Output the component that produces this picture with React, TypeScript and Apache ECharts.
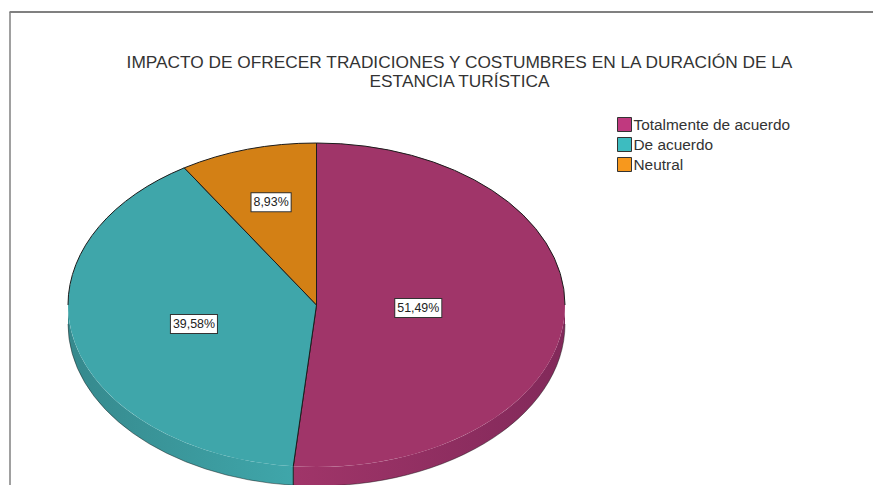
import React, { useEffect, useRef } from "react";
import * as echarts from "echarts";

const titleText = "IMPACTO DE OFRECER TRADICIONES Y COSTUMBRES EN LA DURACIÓN DE LA\nESTANCIA TURÍSTICA";
const categories = ["Totalmente de acuerdo", "De acuerdo", "Neutral"];
const shares = [51.49, 39.58, 8.93];
const shareLabels = ["51,49%", "39,58%", "8,93%"];
const topColors = ["#a03569", "#3fa6aa", "#d38015"];
const sideEdgeColors = ["#82295a", "#36898d", "#b86f12"];
const legendColors = ["#c0397f", "#3dbcc0", "#f7981d"];
const labelFractions = [0.41, 0.507, 0.66];

const CX = 316.5, CY = 305, RX = 248.5, RY = 162, DEPTH = 19;
const FONT = "'Liberation Sans', Arial, sans-serif";
const EDGE = "#1c1c1c";

const pt = (deg: number, dy = 0) => {
  const r = (deg * Math.PI) / 180;
  return [CX + RX * Math.sin(r), CY - RY * Math.cos(r) + dy];
};
const arc = (from: number, to: number, dy = 0) => {
  const q = pt(to, dy);
  const large = Math.abs(to - from) > 180 ? 1 : 0;
  const sweep = to > from ? 1 : 0;
  return `A${RX} ${RY} 0 ${large} ${sweep} ${q[0]} ${q[1]}`;
};

function renderSlice(index: number) {
  return (_params: any, api: any) => {
    const total = shares.reduce((a, b) => a + b, 0);
    const before = shares.slice(0, index).reduce((a, b) => a + b, 0);
    const a0 = (before / total) * 360;
    const a1 = a0 + (api.value(0) / total) * 360;
    const mid = (a0 + a1) / 2;
    const children: any[] = [];
    const s0 = Math.max(a0, 90), s1 = Math.min(a1, 270);
    const p = pt(a0), q = pt(a1);
    if (s1 > s0) {
      const ps = pt(s0), qs2 = pt(s1, DEPTH), ps2 = pt(s0, DEPTH);
      const xs = [ps[0], qs2[0]];
      const minX = Math.min(...xs), maxX = Math.max(...xs);
      // side wall shades from the top colour by the front towards the dark rim
      const darkAtRight = index === 0;
      children.push({
        type: "path",
        shape: {
          pathData: `M${ps[0]} ${ps[1]}${arc(s0, s1)}L${qs2[0]} ${qs2[1]}${arc(s1, s0, DEPTH)}Z`,
        },
        style: {
          fill: new echarts.graphic.LinearGradient(
            darkAtRight ? maxX : minX, 0, darkAtRight ? minX : maxX, 0,
            [
              { offset: 0, color: sideEdgeColors[index] },
              { offset: 1, color: topColors[index] },
            ],
            true,
          ),
          stroke: null,
        },
      });
      children.push({
        type: "path",
        shape: { pathData: `M${ps2[0]} ${ps2[1]}${arc(s0, s1, DEPTH)}` },
        style: { fill: null, stroke: "rgba(20,20,20,0.45)", lineWidth: 1 },
      });
      // vertical seam between two slices at the front
      if (a0 > 90 && a0 < 270) {
        children.push({
          type: "path",
          shape: { pathData: `M${p[0]} ${p[1]}L${p[0]} ${p[1] + DEPTH}` },
          style: { fill: null, stroke: EDGE, lineWidth: 1 },
        });
      }
    }
    children.push({
      type: "path",
      shape: { pathData: `M${CX} ${CY}L${p[0]} ${p[1]}${arc(a0, a1)}Z` },
      style: { fill: topColors[index], stroke: null },
    });
    // dark rim only on the back half, plus the radial edges
    children.push({
      type: "path",
      shape: { pathData: `M${q[0]} ${q[1]}L${CX} ${CY}L${p[0]} ${p[1]}` },
      style: { fill: null, stroke: EDGE, lineWidth: 1 },
    });
    if (a0 < 90) {
      children.push({
        type: "path",
        shape: { pathData: `M${p[0]} ${p[1]}${arc(a0, Math.min(a1, 90))}` },
        style: { fill: null, stroke: EDGE, lineWidth: 1 },
      });
    }
    if (a1 > 270) {
      const st = Math.max(a0, 270);
      const b = pt(st);
      children.push({
        type: "path",
        shape: { pathData: `M${b[0]} ${b[1]}${arc(st, a1)}` },
        style: { fill: null, stroke: EDGE, lineWidth: 1 },
      });
    }
    const f = labelFractions[index];
    const r = (mid * Math.PI) / 180;
    children.push({
      type: "text",
      x: CX + RX * f * Math.sin(r),
      y: CY - RY * f * Math.cos(r),
      style: {
        text: shareLabels[index],
        fontFamily: FONT,
        fontSize: 12.4,
        fill: "#222",
        align: "center",
        verticalAlign: "middle",
        backgroundColor: "#fff",
        borderColor: "#333",
        borderWidth: 1,
        padding: [3, 2, 3, 2],
      },
      z2: 10,
    });
    return { type: "group", children };
  };
}

export default function App() {
  const ref = useRef<HTMLDivElement>(null);
  useEffect(() => {
    document.body.style.margin = "0";
    const chart = echarts.init(ref.current!, null, { renderer: "svg" });
    chart.setOption({
      animation: false,
      backgroundColor: "#fff",
      title: {
        text: titleText,
        left: 454.5,
        top: 47,
        textAlign: "center",
        textStyle: { fontFamily: FONT, fontSize: 17.3, fontWeight: "normal", color: "#333", lineHeight: 19 },
      },
      legend: {
        left: 617,
        top: 117,
        orient: "vertical",
        itemWidth: 14,
        itemHeight: 14,
        itemGap: 5,
        padding: 0,
        selectedMode: false,
        textStyle: { fontFamily: FONT, fontSize: 15.4, color: "#333", padding: [0, 0, 0, -3] },
        data: categories.map((name, i) => ({
          name,
          icon: "rect",
          itemStyle: { color: legendColors[i], borderColor: "#333", borderWidth: 1 },
        })),
      },
      graphic: [
        { type: "line", silent: true, shape: { x1: 9.5, y1: 12, x2: 873, y2: 12 }, style: { stroke: "#808080", lineWidth: 2 } },
        { type: "line", silent: true, shape: { x1: 10, y1: 12, x2: 10, y2: 485 }, style: { stroke: "#808080", lineWidth: 1.5 } },
      ],
      series: categories.map((name, i) => ({
        type: "custom",
        name,
        coordinateSystem: "none",
        silent: true,
        itemStyle: { color: legendColors[i] },
        data: [[shares[i]]],
        renderItem: renderSlice(i),
      })),
    });
    return () => chart.dispose();
  }, []);
  return <div ref={ref} style={{ width: 873, height: 485 }} />;
}
